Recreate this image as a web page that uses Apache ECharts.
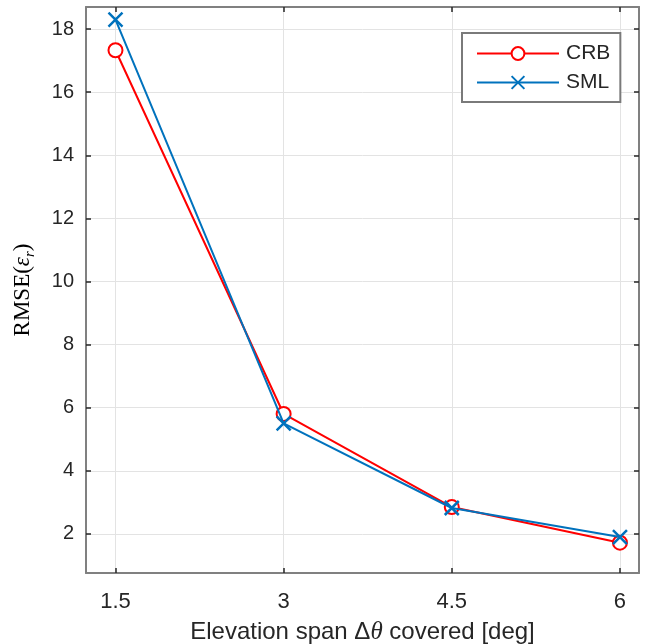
<!DOCTYPE html>
<html>
<head>
<meta charset="utf-8">
<script src="https://cdn.jsdelivr.net/npm/echarts@6/dist/echarts.min.js"></script>
<style>
  html, body { margin: 0; padding: 0; background: #fff; }
  #chart { width: 652px; height: 644px; }
</style>
</head>
<body>
<div id="chart"></div>
<script>
// Elevation span covered (deg) and the RMSE of each estimator
const spans = [1.5, 3, 4.5, 6];
const crbValues = [17.33, 5.8, 2.85, 1.72];
const smlValues = [18.3, 5.5, 2.82, 1.9];
const xTicks = [1.5, 3, 4.5, 6];
const yTicks = [2, 4, 6, 8, 10, 12, 14, 16, 18];

const xRange = [1.237, 6.17];
const yRange = [0.76, 18.7];

const axisGray = '#808080';
const textColor = '#262626';
const gridColor = '#e3e3e3';
const sans = 'Liberation Sans, Arial, sans-serif';
const serif = 'Liberation Serif, serif';

const pairs = (xs, ys) => xs.map((x, i) => [x, ys[i]]);

const chart = echarts.init(document.getElementById('chart'), null, { renderer: 'canvas' });

const baseX = {
  type: 'value', min: xRange[0], max: xRange[1],
  axisLine: { show: true, onZero: false, lineStyle: { color: axisGray, width: 2 } },
  axisTick: { show: true, inside: true, length: 5, customValues: xTicks, lineStyle: { color: '#262626', width: 1.5 } },
};
const baseY = {
  type: 'value', min: yRange[0], max: yRange[1],
  axisLine: { show: true, onZero: false, lineStyle: { color: axisGray, width: 2 } },
  axisTick: { show: true, inside: true, length: 5, customValues: yTicks, lineStyle: { color: '#262626', width: 1.5 } },
};

chart.setOption({
  animation: false,
  backgroundColor: '#ffffff',
  grid: { left: 86, right: 13, top: 7, bottom: 71, containLabel: false, outerBoundsMode: 'none' },
  xAxis: [
    Object.assign({}, baseX, {
      position: 'bottom',
      name: '{a|Elevation span \u0394}{i|\u03b8}{a| covered [deg]}',
      nameLocation: 'middle',
      nameGap: 47,
      nameTextStyle: {
        rich: {
          a: { fontFamily: sans, fontSize: 24, color: textColor },
          i: { fontFamily: serif, fontStyle: 'italic', fontSize: 25, color: textColor }
        }
      },
      axisLabel: {
        show: true, customValues: xTicks, margin: 18,
        fontFamily: sans, fontSize: 22, color: textColor,
        formatter: v => String(v)
      },
      splitLine: { show: true, lineStyle: { color: gridColor, width: 1 } }
    }),
    Object.assign({}, baseX, {
      position: 'top',
      axisLabel: { show: false },
      splitLine: { show: false }
    })
  ],
  yAxis: [
    Object.assign({}, baseY, {
      position: 'left',
      name: '{a|RMSE(}{e|\u03b5}{s|r}{a|)}',
      nameLocation: 'middle',
      nameRotate: 90,
      nameGap: 52,
      nameTextStyle: {
        rich: {
          a: { fontFamily: serif, fontSize: 23, color: '#000', verticalAlign: 'bottom' },
          e: { fontFamily: serif, fontStyle: 'italic', fontSize: 23, color: '#000', verticalAlign: 'bottom' },
          s: { fontFamily: serif, fontStyle: 'italic', fontSize: 15, color: '#000', verticalAlign: 'bottom', padding: [0, 0, -4, 0] }
        }
      },
      axisLabel: {
        show: true, customValues: yTicks, margin: 12,
        fontFamily: sans, fontSize: 20, color: textColor
      },
      splitLine: { show: true, lineStyle: { color: gridColor, width: 1 } }
    }),
    Object.assign({}, baseY, {
      position: 'right',
      axisLabel: { show: false },
      splitLine: { show: false }
    })
  ],
  legend: {
    show: true,
    orient: 'vertical',
    left: 462, top: 33,
    padding: [10, 10, 9, 14],
    itemWidth: 82, itemHeight: 16, itemGap: 8,
    backgroundColor: '#ffffff',
    borderColor: '#7a7a7a', borderWidth: 2,
    textStyle: { fontFamily: sans, fontSize: 21, color: textColor, padding: [0, 0, 0, 2] },
    data: ['CRB', 'SML']
  },
  series: [
    {
      name: 'CRB', type: 'line',
      data: pairs(spans, crbValues),
      symbol: 'circle', symbolSize: 14,
      lineStyle: { color: '#ff0000', width: 2 },
      itemStyle: { color: '#ffffff', borderColor: '#ff0000', borderWidth: 2 },
      z: 3
    },
    {
      name: 'SML', type: 'line',
      data: pairs(spans, smlValues),
      symbol: 'path://M0,0L10,10M10,0L0,10', symbolSize: 14,
      lineStyle: { color: '#0072bd', width: 2 },
      itemStyle: { color: 'none', borderColor: '#0072bd', borderWidth: 2.5 },
      z: 4
    }
  ]
});
</script>
</body>
</html>
